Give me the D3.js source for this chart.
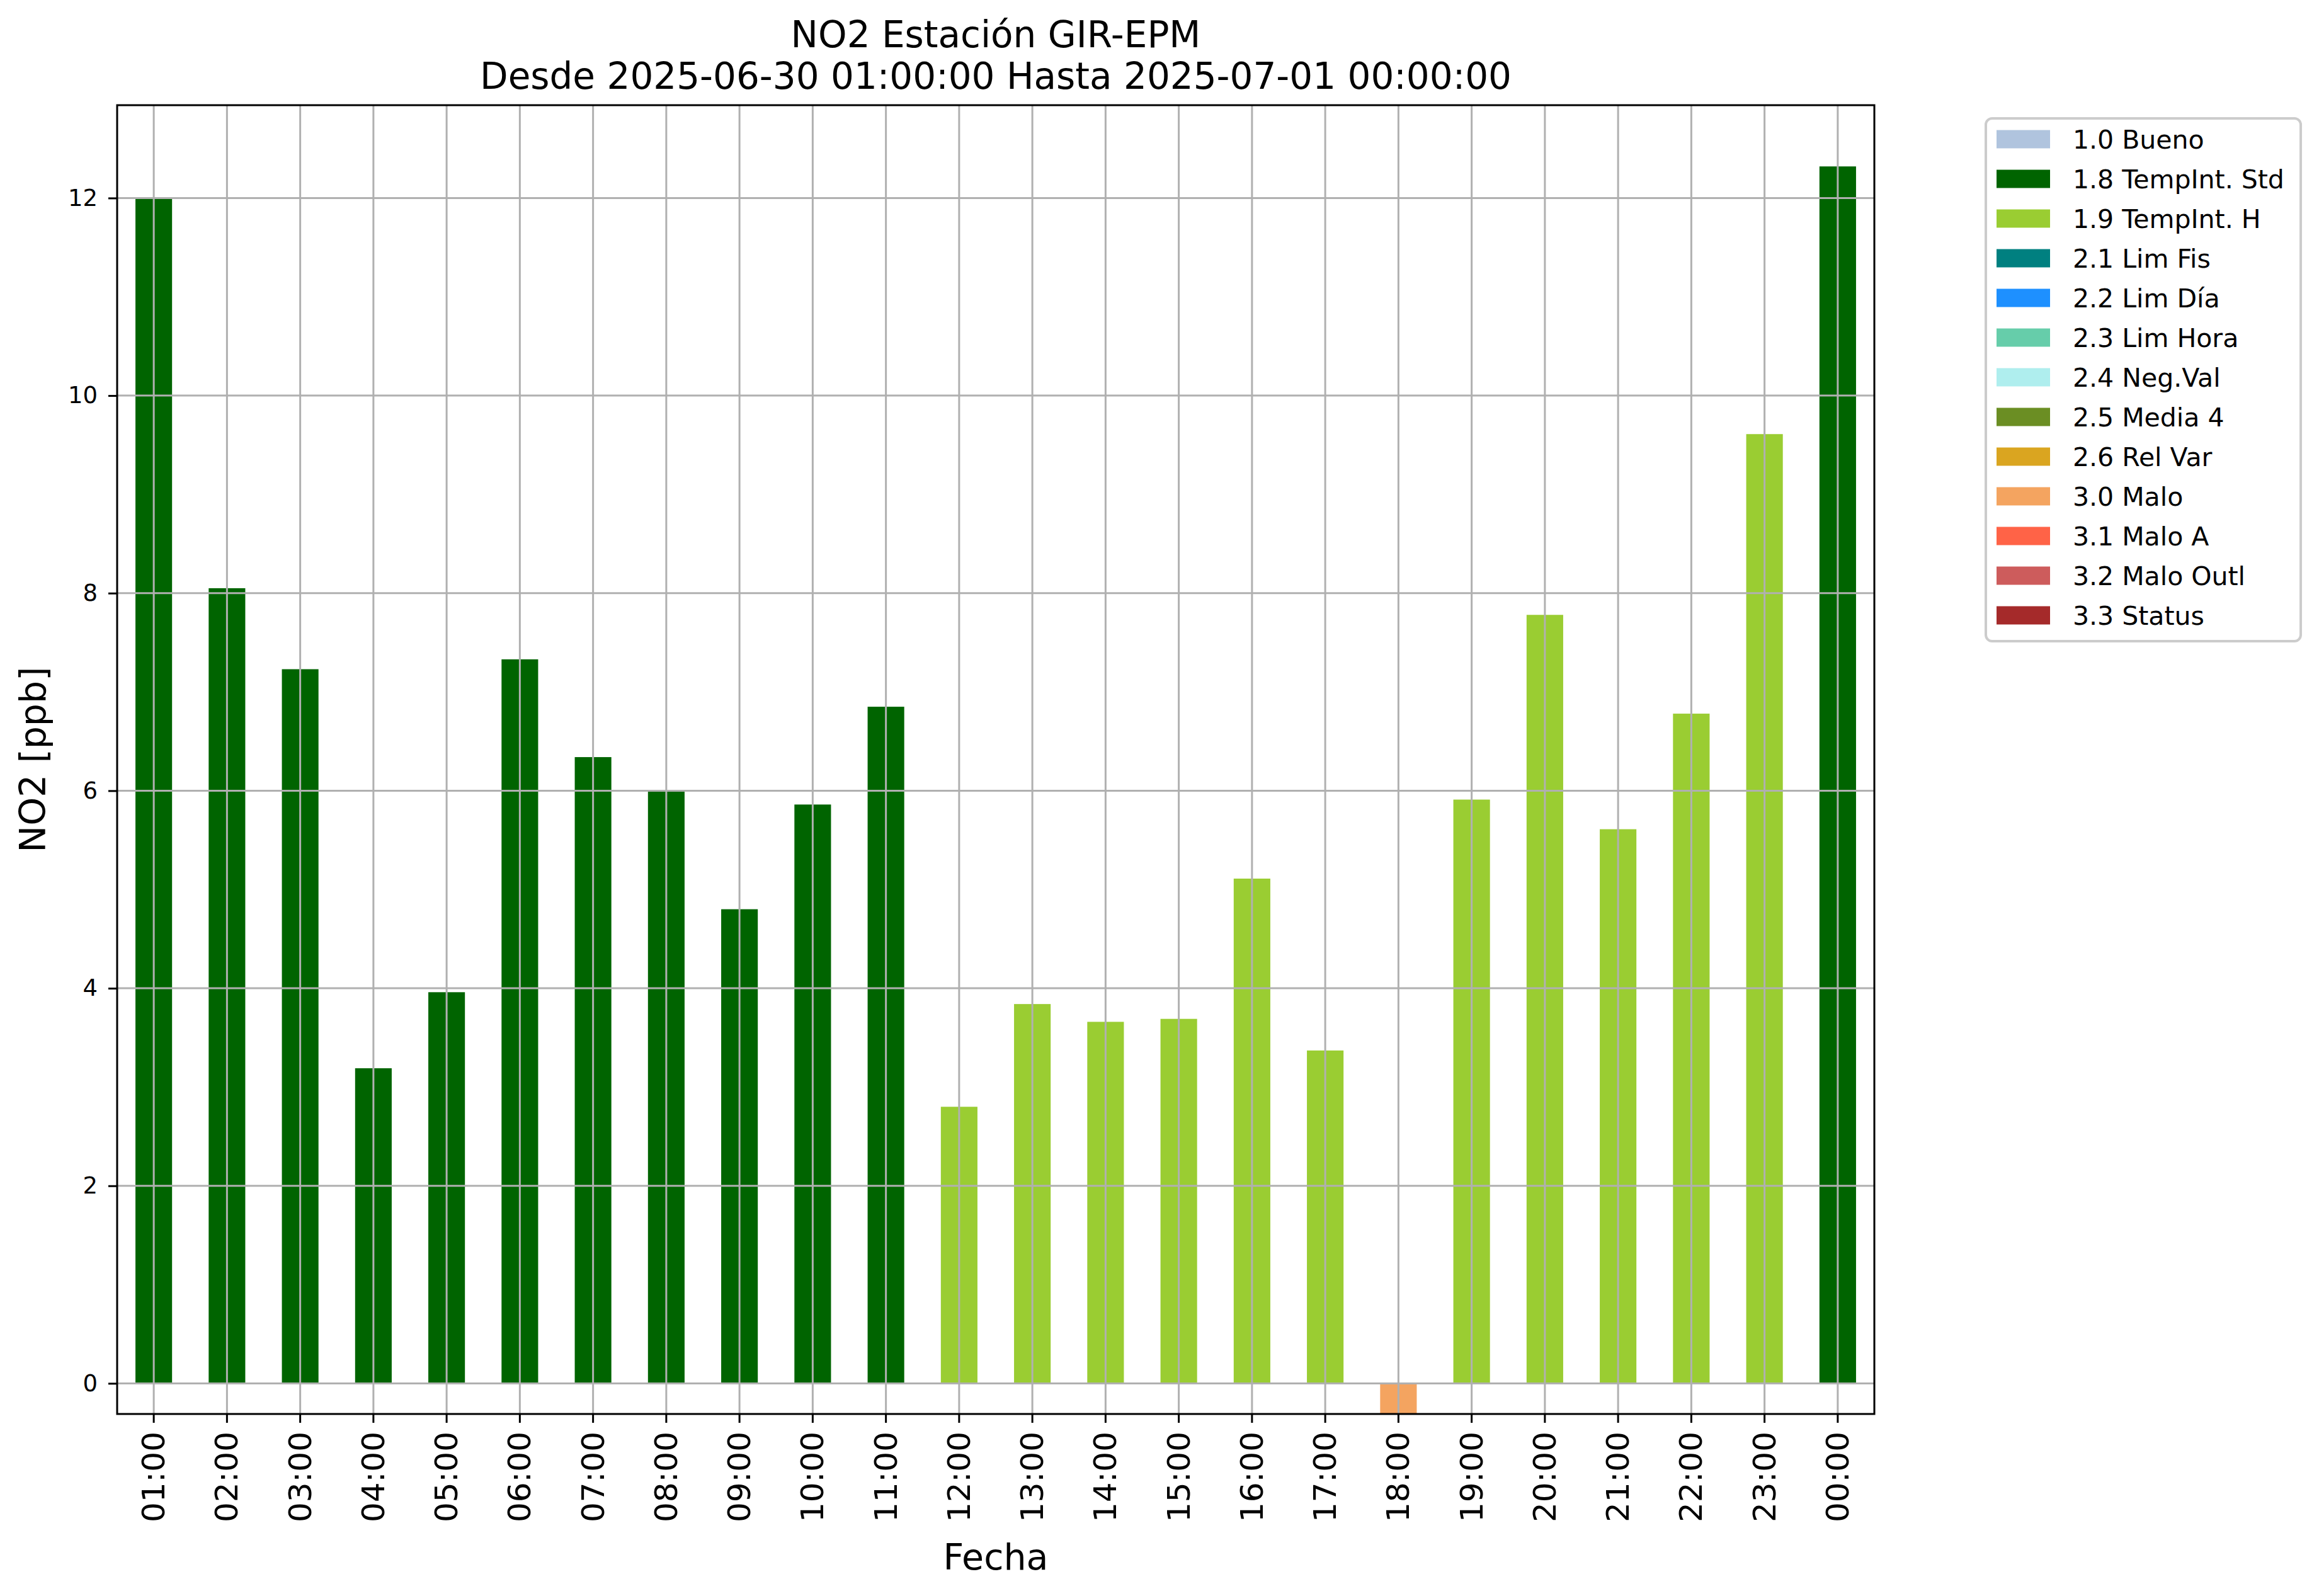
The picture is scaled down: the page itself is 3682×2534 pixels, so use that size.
<!DOCTYPE html>
<html lang="es">
<head>
  <meta charset="UTF-8">
  <title>NO2 Estación GIR-EPM</title>
  <style>
    body { margin: 0; background: white; }
    text { font-family: "DejaVu Sans", sans-serif; }
  </style>
</head>
<body>
  <script src="https://d3js.org/d3.v7.min.js"></script>
  <script>
    // hourly NO2 values
    let hours = ["01:00", "02:00", "03:00", "04:00", "05:00", "06:00", "07:00", "08:00",
      "09:00", "10:00", "11:00", "12:00", "13:00", "14:00", "15:00", "16:00",
      "17:00", "18:00", "19:00", "20:00", "21:00", "22:00", "23:00", "00:00"];
    let values = [12.0, 8.05, 7.23, 3.19, 3.96, 7.33, 6.34, 6.0,
      4.8, 5.86, 6.85, 2.8, 3.84, 3.66, 3.69, 5.11,
      3.37, -0.31, 5.91, 7.78, 5.61, 6.78, 9.61, 12.32];
    let flags = ["1.8", "1.8", "1.8", "1.8", "1.8", "1.8", "1.8", "1.8",
      "1.8", "1.8", "1.8", "1.9", "1.9", "1.9", "1.9", "1.9",
      "1.9", "3.0", "1.9", "1.9", "1.9", "1.9", "1.9", "1.8"];

    let legendCodes = ["1.0", "1.8", "1.9", "2.1", "2.2", "2.3", "2.4", "2.5", "2.6", "3.0", "3.1", "3.2", "3.3"];
    let legendNames = ["Bueno", "TempInt. Std", "TempInt. H", "Lim Fis", "Lim Día", "Lim Hora",
      "Neg.Val", "Media 4", "Rel Var", "Malo", "Malo A", "Malo Outl", "Status"];
    let legendColors = ["#b0c4de", "#006400", "#9acd32", "#008080", "#1e90ff", "#66cdaa",
      "#afeeee", "#6b8e23", "#daa520", "#f4a460", "#ff6347", "#cd5c5c", "#a52a2a"];

    let yTicks = [0, 2, 4, 6, 8, 10, 12];
    let yDomain = [-0.31, 12.94];

    let svgWidth = 3682, svgHeight = 2534;
    let plotLeft = 186, plotRight = 2976, plotTop = 167, plotBottom = 2245;

    let svg = d3.select("body").append("svg")
      .attr("width", svgWidth)
      .attr("height", svgHeight);

    let x = d3.scaleBand()
      .domain(hours)
      .range([plotLeft, plotRight])
      .paddingInner(0.5)
      .paddingOuter(0.25);

    let y = d3.scaleLinear()
      .domain(yDomain)
      .range([plotBottom, plotTop]);

    let color = d3.scaleOrdinal().domain(legendCodes).range(legendColors);

    let data = hours.map(function(h, i) {
      return { hour: h, value: values[i], flag: flags[i] };
    });

    svg.append("clipPath").attr("id", "plot")
      .append("rect")
      .attr("x", plotLeft).attr("y", plotTop)
      .attr("width", plotRight - plotLeft).attr("height", plotBottom - plotTop);

    // bars
    svg.append("g").attr("clip-path", "url(#plot)")
      .selectAll("rect")
      .data(data)
      .enter()
      .append("rect")
      .attr("x", d => x(d.hour))
      .attr("width", x.bandwidth())
      .attr("y", d => y(Math.max(0, d.value)))
      .attr("height", d => Math.abs(y(d.value) - y(0)))
      .attr("fill", d => color(d.flag));

    // grid on top of bars
    let grid = svg.append("g")
      .attr("stroke", "#b0b0b0")
      .attr("stroke-width", 3);

    grid.selectAll(".vg")
      .data(hours)
      .enter()
      .append("line")
      .attr("x1", d => x(d) + x.bandwidth() / 2)
      .attr("x2", d => x(d) + x.bandwidth() / 2)
      .attr("y1", plotTop)
      .attr("y2", plotBottom);

    grid.selectAll(".hg")
      .data(yTicks)
      .enter()
      .append("line")
      .attr("x1", plotLeft)
      .attr("x2", plotRight)
      .attr("y1", d => y(d))
      .attr("y2", d => y(d));

    // frame
    svg.append("rect")
      .attr("x", plotLeft).attr("y", plotTop)
      .attr("width", plotRight - plotLeft).attr("height", plotBottom - plotTop)
      .attr("fill", "none")
      .attr("stroke", "black")
      .attr("stroke-width", 3);

    // x axis
    let xAxis = svg.append("g")
      .attr("transform", "translate(0," + plotBottom + ")")
      .call(d3.axisBottom(x).tickSize(14).tickPadding(0));
    xAxis.select(".domain").remove();
    xAxis.selectAll(".tick line").attr("stroke-width", 3);
    xAxis.selectAll(".tick text")
      .attr("font-size", 50)
      .attr("text-anchor", "end")
      .attr("dy", null)
      .attr("transform", "translate(0,28) rotate(-90)")
      .attr("x", 0)
      .attr("y", 0)
      .attr("dominant-baseline", "central");

    // y axis
    let yAxis = svg.append("g")
      .attr("transform", "translate(" + plotLeft + ",0)")
      .call(d3.axisLeft(y).tickValues(yTicks).tickSize(14).tickPadding(17));
    yAxis.select(".domain").remove();
    yAxis.selectAll(".tick line").attr("stroke-width", 3);
    yAxis.selectAll(".tick text").attr("font-size", 37);

    // titles and labels
    svg.append("text")
      .attr("x", (plotLeft + plotRight) / 2)
      .attr("y", 75)
      .attr("text-anchor", "middle")
      .attr("font-size", 58)
      .text("NO2 Estación GIR-EPM");

    svg.append("text")
      .attr("x", (plotLeft + plotRight) / 2)
      .attr("y", 141)
      .attr("text-anchor", "middle")
      .attr("font-size", 58)
      .text("Desde 2025-06-30 01:00:00 Hasta 2025-07-01 00:00:00");

    svg.append("text")
      .attr("x", (plotLeft + plotRight) / 2)
      .attr("y", 2492)
      .attr("text-anchor", "middle")
      .attr("font-size", 57)
      .text("Fecha");

    svg.append("text")
      .attr("transform", "translate(72," + (plotTop + plotBottom) / 2 + ") rotate(-90)")
      .attr("text-anchor", "middle")
      .attr("font-size", 57)
      .text("NO2 [ppb]");

    // legend
    let legend = svg.append("g");
    legend.append("rect")
      .attr("x", 3153).attr("y", 188)
      .attr("width", 500).attr("height", 830)
      .attr("rx", 10)
      .attr("fill", "white")
      .attr("stroke", "#cccccc")
      .attr("stroke-width", 4);

    let rows = legend.selectAll(".row")
      .data(legendCodes)
      .enter()
      .append("g")
      .attr("transform", (d, i) => "translate(0," + (221 + i * 63) + ")");

    rows.append("rect")
      .attr("x", 3170).attr("y", -14.5)
      .attr("width", 85).attr("height", 29)
      .attr("fill", d => color(d));

    rows.append("text")
      .attr("x", 3291)
      .attr("y", 15)
      .attr("font-size", 41)
      .text((d, i) => d + " " + legendNames[i]);
  </script>
</body>
</html>
